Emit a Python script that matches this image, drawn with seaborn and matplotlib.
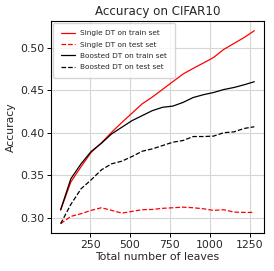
import numpy as np
import pandas as pd
import matplotlib
matplotlib.use("Agg")
import matplotlib.pyplot as plt
import seaborn as sns

# number of leaves (x axis)
leaves = [64 * i for i in range(1, 21)]

single_train = [0.309, 0.342, 0.360, 0.377, 0.388, 0.4005, 0.412, 0.423, 0.434, 0.442,
                0.451, 0.460, 0.469, 0.4757, 0.482, 0.4885, 0.498, 0.505, 0.512, 0.520]
single_test = [0.293, 0.3015, 0.3047, 0.3086, 0.3117, 0.3086, 0.3054, 0.3074, 0.3094, 0.3097,
               0.311, 0.3117, 0.3124, 0.3117, 0.3105, 0.3086, 0.3094, 0.3066, 0.3062, 0.3062]
boosted_train = [0.3094, 0.3458, 0.3634, 0.378, 0.3876, 0.3986, 0.4064, 0.4142, 0.4201, 0.426,
                 0.4299, 0.4313, 0.4356, 0.4414, 0.4447, 0.4473, 0.4508, 0.4532, 0.4564, 0.460]
boosted_test = [0.293, 0.3156, 0.334, 0.3446, 0.3563, 0.3634, 0.3665, 0.372, 0.3782, 0.381,
                0.3849, 0.3888, 0.3908, 0.3955, 0.3955, 0.396, 0.400, 0.401, 0.405, 0.407]

labels = ["Single DT on train set", "Single DT on test set",
          "Boosted DT on train set", "Boosted DT on test set"]

sns.set_style("whitegrid", {"axes.edgecolor": "black", "grid.color": "#d6d6d6",
                            "xtick.bottom": True, "ytick.left": True})

fig = plt.figure(figsize=(2.74, 2.71), dpi=100)
ax = fig.add_axes([0.186, 0.139, 0.7775, 0.7846])

series = [single_train, single_test, boosted_train, boosted_test]
colors = ["red", "red", "black", "black"]
styles = ["-", "--", "-", "--"]
for vals, lab, c, ls in zip(series, labels, colors, styles):
    sns.lineplot(x=leaves, y=vals, ax=ax, color=c, linestyle=ls, linewidth=0.9, label=lab)

ax.set_xticks([250, 500, 750, 1000, 1250])
ax.set_yticks([0.30, 0.35, 0.40, 0.45, 0.50])
ax.set_yticklabels(["0.30", "0.35", "0.40", "0.45", "0.50"])
ax.tick_params(labelsize=7.8, pad=2, length=3, width=0.7, direction="out", color="black")
ax.set_xlabel("Total number of leaves", fontsize=7.8, labelpad=1.5)
ax.set_ylabel("Accuracy", fontsize=7.8, labelpad=3)
ax.set_title("Accuracy on CIFAR10", fontsize=8.6, pad=4)
for s in ax.spines.values():
    s.set_linewidth(0.8)
ax.legend(loc="upper left", fontsize=5.3, frameon=True, handlelength=1.9,
          handletextpad=0.8, borderpad=1.0, labelspacing=0.7, borderaxespad=0.3)
ax.set_xlim(3.2, 1340.8)
ax.set_ylim(0.2816, 0.5318)

fig.savefig("out.png", dpi=100)
